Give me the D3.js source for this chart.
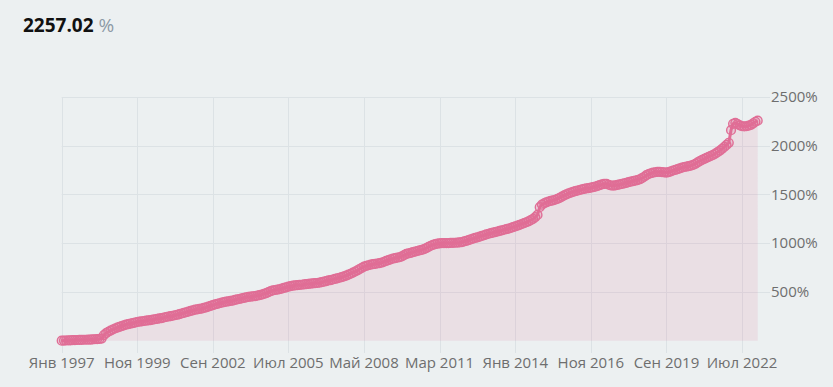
<!DOCTYPE html>
<html>
<head>
<meta charset="utf-8">
<script src="https://cdn.jsdelivr.net/npm/d3@7"></script>
<style>
  body { margin: 0; background: #ecf0f1; }
  svg { display: block; font-family: "Open Sans", sans-serif; }
</style>
</head>
<body>
<div id="chart"></div>
<script>
// first month of the series
const startYear = 1997;

// monthly cumulative return, %, one row per year
const values = [
    0, 1, 2, 3, 4, 5, 6, 7, 8, 9, 10, 10,                                  // 1997
    11, 12, 13, 15, 16, 18, 22, 58, 78, 92, 104, 115,                      // 1998
    125, 135, 142, 150, 158, 165, 171, 176, 181, 186, 192, 196,            // 1999
    199, 202, 205, 209, 212, 216, 220, 224, 228, 232, 238, 243,            // 2000
    248, 252, 256, 261, 266, 272, 279, 285, 292, 298, 305, 312,            // 2001
    318, 322, 326, 330, 336, 342, 350, 358, 365, 372, 378, 384,            // 2002
    390, 395, 400, 404, 408, 412, 418, 424, 428, 434, 440, 445,            // 2003
    449, 452, 455, 458, 462, 467, 473, 480, 488, 498, 508, 516,            // 2004
    520, 524, 528, 535, 542, 548, 554, 560, 564, 568, 570, 572,            // 2005
    574, 577, 580, 583, 586, 588, 590, 592, 595, 600, 606, 612,            // 2006
    618, 622, 628, 634, 640, 646, 652, 660, 668, 677, 687, 698,            // 2007
    710, 722, 735, 748, 760, 768, 774, 780, 785, 788, 792, 795,            // 2008
    802, 810, 818, 826, 835, 843, 848, 852, 856, 865, 878, 890,            // 2009
    895, 900, 908, 914, 920, 926, 931, 940, 950, 962, 974, 984,            // 2010
    990, 995, 998, 1000, 1001, 1002, 1002, 1003, 1004, 1005, 1006, 1008,   // 2011
    1012, 1018, 1025, 1032, 1040, 1048, 1054, 1060, 1068, 1075, 1082, 1090, // 2012
    1097, 1103, 1108, 1114, 1120, 1126, 1132, 1138, 1144, 1150, 1157, 1165, // 2013
    1172, 1180, 1188, 1197, 1206, 1215, 1225, 1236, 1250, 1268, 1290, 1370, // 2014
    1395, 1410, 1420, 1428, 1434, 1440, 1446, 1455, 1465, 1478, 1490, 1502, // 2015
    1512, 1520, 1527, 1534, 1540, 1546, 1552, 1558, 1563, 1566, 1570, 1575, // 2016
    1580, 1588, 1596, 1603, 1608, 1610, 1600, 1592, 1590, 1594, 1598, 1603, // 2017
    1608, 1613, 1620, 1626, 1632, 1638, 1643, 1648, 1656, 1668, 1682, 1698, // 2018
    1710, 1718, 1724, 1728, 1731, 1732, 1730, 1727, 1725, 1730, 1738, 1746, // 2019
    1753, 1760, 1768, 1775, 1782, 1786, 1790, 1796, 1804, 1815, 1830, 1843, // 2020
    1855, 1866, 1876, 1886, 1896, 1907, 1920, 1934, 1950, 1968, 1988, 2008, // 2021
    2030, 2160, 2225, 2235, 2222, 2208, 2200, 2198, 2200, 2206, 2215, 2230, // 2022
    2246, 2257.02                                                           // 2023
];

const yTicks = [500, 1000, 1500, 2000, 2500];
const monthNames = ["Янв", "Фев", "Мар", "Апр", "Май", "Июн", "Июл", "Авг", "Сен", "Окт", "Ноя", "Дек"];
const tickStep = 34; // months between x labels

const width = 833, height = 387;
const margin = { left: 61.7, right: 75.3, top: 97, bottom: 46.3 };
const pink = "#e06e96";

const data = values.map((v, i) => ({ date: new Date(startYear, i, 1), value: v }));

const x = d3.scaleTime()
    .domain(d3.extent(data, d => d.date))
    .range([margin.left, width - margin.right]);

const y = d3.scaleLinear()
    .domain([0, 2500])
    .range([height - margin.bottom, margin.top]);

const svg = d3.select("#chart")
    .append("svg")
    .attr("width", width)
    .attr("height", height);

// header value
const head = svg.append("text")
    .attr("x", 23)
    .attr("y", 32);
head.append("tspan")
    .attr("font-weight", "bold")
    .attr("font-size", 19)
    .attr("fill", "#111")
    .text(values[values.length - 1].toFixed(2));
head.append("tspan")
    .attr("font-size", 19)
    .attr("fill", "#8c9aa6")
    .attr("dx", 5)
    .text("%");

// horizontal grid + y labels
const gridRight = 770;
svg.append("g")
    .selectAll("line")
    .data(yTicks)
    .enter()
    .append("line")
    .attr("x1", margin.left)
    .attr("x2", gridRight)
    .attr("y1", d => Math.round(y(d)) + 0.5)
    .attr("y2", d => Math.round(y(d)) + 0.5)
    .attr("stroke", "#dce2e5");

svg.append("g")
    .selectAll("text")
    .data(yTicks)
    .enter()
    .append("text")
    .attr("x", 771)
    .attr("y", d => y(d))
    .attr("dy", "0.35em")
    .attr("font-size", 15)
    .attr("fill", "#6e6e6e")
    .text(d => d + "%");

// vertical grid + x labels
const xTicks = d3.range(0, values.length, tickStep).map(i => new Date(startYear, i, 1));

svg.append("g")
    .selectAll("line")
    .data(xTicks)
    .enter()
    .append("line")
    .attr("x1", d => Math.round(x(d)) + 0.5)
    .attr("x2", d => Math.round(x(d)) + 0.5)
    .attr("y1", margin.top)
    .attr("y2", 353)
    .attr("stroke", "#dce2e5");

svg.append("g")
    .selectAll("text")
    .data(xTicks)
    .enter()
    .append("text")
    .attr("x", d => x(d))
    .attr("y", 368)
    .attr("text-anchor", "middle")
    .attr("font-size", 15)
    .attr("fill", "#6e6e6e")
    .text(d => monthNames[d.getMonth()] + " " + d.getFullYear());

// area
const area = d3.area()
    .x(d => x(d.date))
    .y0(y(0))
    .y1(d => y(d.value));

svg.append("path")
    .datum(data)
    .attr("d", area)
    .attr("fill", pink)
    .attr("fill-opacity", 0.13);

// connecting line under the markers
const line = d3.line()
    .x(d => x(d.date))
    .y(d => y(d.value));

svg.append("path")
    .datum(data)
    .attr("d", line)
    .attr("fill", "none")
    .attr("stroke", pink)
    .attr("stroke-width", 3);

// markers
svg.append("g")
    .selectAll("circle")
    .data(data)
    .enter()
    .append("circle")
    .attr("cx", d => x(d.date))
    .attr("cy", d => y(d.value))
    .attr("r", 4.4)
    .attr("fill", pink)
    .attr("fill-opacity", 0.25)
    .attr("stroke", pink)
    .attr("stroke-width", 1.4);
</script>
</body>
</html>
